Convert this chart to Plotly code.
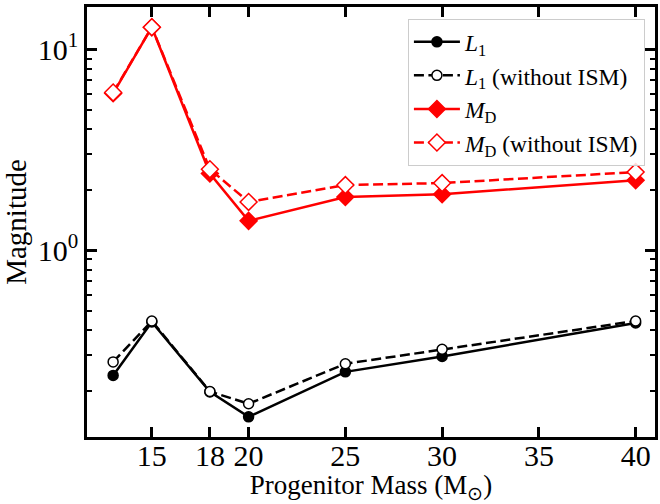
import plotly.graph_objects as go

mass = [13, 15, 18, 20, 25, 30, 40]
L1 = [0.238, 0.439, 0.197, 0.148, 0.248, 0.296, 0.434]
L1_noism = [0.278, 0.444, 0.198, 0.172, 0.272, 0.321, 0.444]
MD = [6.04, 12.9, 2.41, 1.40, 1.84, 1.90, 2.23]
MD_noism = [6.10, 12.9, 2.53, 1.74, 2.11, 2.16, 2.45]

xticks = [15, 18, 20, 25, 30, 35, 40]
yticks = [1, 10]
yticklabels = ["10<sup>0</sup>", "10<sup>1</sup>"]

FONT = "Liberation Serif"
DASH = "10px,4.5px"

fig = go.Figure()
fig.add_trace(go.Scatter(
    x=mass, y=L1, mode="lines+markers", name="<i>L</i><sub>1</sub>",
    line=dict(color="black", width=2.5),
    marker=dict(symbol="circle", size=10, color="black", line=dict(color="black", width=1.5))))
fig.add_trace(go.Scatter(
    x=mass, y=L1_noism, mode="lines+markers", name="<i>L</i><sub>1</sub> (without ISM)",
    line=dict(color="black", width=2.5, dash=DASH),
    marker=dict(symbol="circle", size=10, color="white", line=dict(color="black", width=1.5))))
fig.add_trace(go.Scatter(
    x=mass, y=MD, mode="lines+markers", name="<i>M</i><sub>D</sub>",
    line=dict(color="red", width=2.5),
    marker=dict(symbol="diamond", size=13, color="red", line=dict(color="red", width=1.5))))
fig.add_trace(go.Scatter(
    x=mass, y=MD_noism, mode="lines+markers", name="<i>M</i><sub>D</sub> (without ISM)",
    line=dict(color="red", width=2.5, dash=DASH),
    marker=dict(symbol="diamond", size=13, color="white", line=dict(color="red", width=1.5))))

minor_vals = [m * d for d in (0.1, 1, 10) for m in range(2, 10)]

fig.update_layout(
    width=660, height=504,
    margin=dict(l=87, r=5, t=7, b=67, autoexpand=False),
    paper_bgcolor="white", plot_bgcolor="white",
    font=dict(family=FONT, size=22, color="black"),
    showlegend=True,
    legend=dict(x=0.565, y=0.972, xanchor="left", yanchor="top",
                bgcolor="rgba(255,255,255,0.85)", bordercolor="#cccccc", borderwidth=1,
                font=dict(family=FONT, size=23.5), tracegroupgap=0, itemwidth=46),
    xaxis=dict(
        range=[11.65, 41.0], tickmode="array", tickvals=xticks,
        ticks="inside", ticklen=10, tickwidth=2.5, tickcolor="black",
        showline=True, linecolor="black", linewidth=2.5, mirror="ticks",
        showgrid=False, zeroline=False,
        tickfont=dict(family=FONT, size=30), ticklabelstandoff=-10,
        title=dict(text="Progenitor Mass (M<sub>⊙</sub>)", font=dict(family=FONT, size=27), standoff=2),
    ),
    yaxis=dict(
        type="log", range=[-0.930, 1.211], tickmode="array", tickvals=yticks, ticktext=yticklabels,
        ticks="inside", ticklen=10, tickwidth=2.5, tickcolor="black",
        showline=True, linecolor="black", linewidth=2.5, mirror="ticks",
        showgrid=False, zeroline=False,
        tickfont=dict(family=FONT, size=30),
        minor=dict(tickmode="array", tickvals=minor_vals, ticks="inside", ticklen=5,
                   tickwidth=2, tickcolor="black", showgrid=False),
        title=dict(text="Magnitude", font=dict(family=FONT, size=29), standoff=6),
    ),
)

fig.write_html("out.html", config={"displayModeBar": False},
               post_script="document.body.style.margin='0px';document.body.style.overflow='hidden';")
